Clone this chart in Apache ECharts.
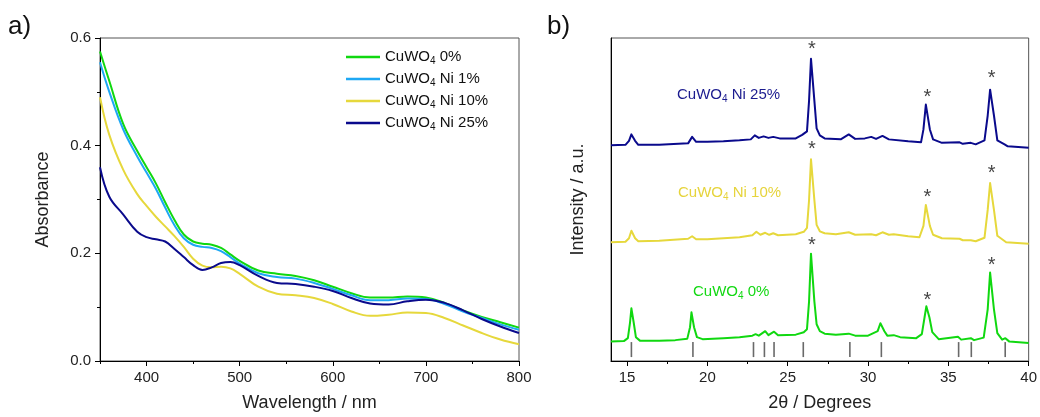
<!DOCTYPE html>
<html>
<head>
<meta charset="utf-8">
<script src="https://cdn.jsdelivr.net/npm/echarts@6/dist/echarts.min.js"></script>
<style>
  html, body { margin: 0; padding: 0; background: #fff; }
  #main { width: 1040px; height: 417px; }
</style>
</head>
<body>
<div id="main"></div>
<script>
// a) absorbance spectra
var wavelengths = [350, 360, 375, 390, 400, 410, 420, 430, 440, 450, 460, 470, 480, 490, 500,
  520, 540, 560, 580, 600, 620, 640, 660, 680, 700, 720, 740, 760, 780, 800]
var abs0 = [0.575, 0.52, 0.44, 0.39, 0.36, 0.33, 0.295, 0.262, 0.235, 0.222, 0.218, 0.216, 0.21, 0.198, 0.186,
  0.168, 0.162, 0.158, 0.15, 0.138, 0.126, 0.118, 0.118, 0.12, 0.118, 0.108, 0.094, 0.082, 0.072, 0.062]
var abs1 = [0.555, 0.5, 0.43, 0.38, 0.35, 0.32, 0.285, 0.252, 0.228, 0.216, 0.212, 0.21, 0.204, 0.193, 0.181,
  0.163, 0.156, 0.153, 0.145, 0.134, 0.122, 0.113, 0.113, 0.116, 0.115, 0.106, 0.092, 0.08, 0.068, 0.058]
var abs10 = [0.49, 0.42, 0.355, 0.31, 0.288, 0.268, 0.25, 0.232, 0.212, 0.19, 0.177, 0.174, 0.175, 0.172, 0.162,
  0.138, 0.125, 0.122, 0.117, 0.106, 0.092, 0.084, 0.086, 0.09, 0.089, 0.08, 0.066, 0.052, 0.04, 0.031]
var abs25 = [0.36, 0.305, 0.272, 0.24, 0.23, 0.226, 0.222, 0.208, 0.193, 0.178, 0.169, 0.174, 0.182, 0.184, 0.178,
  0.158, 0.145, 0.143, 0.138, 0.13, 0.117, 0.107, 0.105, 0.111, 0.114, 0.108, 0.094, 0.078, 0.064, 0.052]

var absTicks = [400, 500, 600, 700, 800]
var absMinorTicks = [350, 450, 550, 650, 750]

// b) XRD patterns (offset, arbitrary units)
var xrd0 = [[14, 19.5], [14.8, 20], [15.05, 23], [15.18, 38], [15.27, 53], [15.33, 53], [15.42, 38], [15.55, 24], [15.8, 20.5],
  [17, 20.5], [18, 21], [18.75, 22.5], [18.92, 34], [19.01, 49], [19.07, 49], [19.17, 34], [19.35, 24], [19.7, 22],
  [21, 23], [22, 24], [22.8, 25.5], [23, 27], [23.2, 25.5], [23.6, 30], [23.8, 26], [24.15, 29.5], [24.4, 26],
  [25.5, 26.5], [26, 29], [26.2, 32], [26.33, 60], [26.45, 108], [26.53, 108], [26.66, 60], [26.8, 37], [27, 30], [27.3, 27.5],
  [28, 26.5], [28.8, 27.5], [29.2, 25.5], [30, 25.5], [30.6, 30], [30.77, 38], [30.85, 38], [31.02, 30], [31.2, 25.5], [31.6, 26],
  [32, 24], [33, 23], [33.35, 27], [33.52, 44], [33.63, 55], [33.7, 55], [33.82, 44], [34, 29], [34.4, 22],
  [35.6, 24.5], [35.8, 21.5], [36.4, 23], [36.6, 21], [37.2, 23.5], [37.45, 52], [37.6, 89], [37.68, 89], [37.84, 52],
  [38.05, 28], [38.35, 21.5], [38.55, 23], [38.8, 19.5], [40, 18]]
var xrd10 = [[14, 119.5], [14.9, 120], [15.12, 123.5], [15.27, 131], [15.35, 131], [15.5, 123.5], [15.7, 120.5],
  [17, 121], [18.8, 123], [19.05, 125.5], [19.3, 122.5], [20, 122.5], [21, 123.5], [22, 124.5],
  [22.8, 126.5], [23.05, 130], [23.3, 127], [23.6, 129], [23.85, 127], [24.1, 128.5], [24.4, 126.5],
  [25.5, 127.5], [26, 130], [26.2, 134], [26.33, 162], [26.45, 203], [26.53, 203], [26.66, 162], [26.8, 137], [27, 130.5], [27.3, 128.5],
  [28, 127.5], [28.8, 129.5], [29.2, 127], [30.2, 127.5], [30.5, 126.5], [30.9, 129.5], [31.3, 127], [31.6, 127.5],
  [32.5, 125.5], [33.2, 124.5], [33.45, 136], [33.6, 157], [33.7, 157], [33.85, 136], [34.05, 127], [34.6, 123.5],
  [35.7, 123], [35.9, 121.5], [36.4, 121.5], [36.7, 120.5], [37.25, 124], [37.45, 152], [37.6, 179], [37.68, 179],
  [37.84, 152], [38.05, 126], [38.6, 119.5], [40, 118]]
var xrd25 = [[14, 217], [14.9, 217.5], [15.12, 221.5], [15.27, 228], [15.35, 228], [15.5, 221.5], [15.7, 217.5],
  [17, 217.5], [18.8, 219], [19.05, 225.5], [19.3, 220.5], [20, 220.5], [21, 221], [22, 222],
  [22.7, 223], [22.95, 227], [23.2, 224.5], [23.5, 226], [23.8, 224.5], [24.1, 225.5], [24.5, 224],
  [25.5, 224], [25.9, 227.5], [26.2, 231], [26.33, 262], [26.45, 304], [26.53, 304], [26.66, 262], [26.8, 234], [27, 227], [27.3, 224],
  [28.3, 223], [28.8, 228], [29.2, 223.5], [29.8, 224], [30.2, 225.5], [30.5, 223.5], [30.9, 226.5], [31.3, 223],
  [32.5, 221], [33.3, 220], [33.45, 233], [33.6, 258], [33.7, 258], [33.85, 233], [34.05, 223], [34.6, 219.5],
  [35.7, 220], [35.9, 218.5], [36.4, 219.5], [36.7, 218], [37.25, 222], [37.45, 247], [37.6, 273], [37.68, 273],
  [37.84, 247], [38.05, 222], [38.5, 218], [38.7, 216], [40, 214.5]]

// reference pattern positions and starred reflections
var refPeaks = [15.27, 19.1, 22.87, 23.55, 24.15, 25.97, 28.87, 30.83, 35.64, 36.43, 38.54]
var refLevel = 11.5
var stars = [[26.5, 121], [33.7, 66], [37.7, 101.5], [26.5, 217.5], [33.7, 170], [37.7, 193.5],
  [26.5, 318], [33.7, 270], [37.7, 289.5]]

var xrdTicks = [15, 20, 25, 30, 35, 40]
var xrdMinorTicks = [17.5, 22.5, 27.5, 32.5, 37.5]

var names = ['CuWO4 0%', 'CuWO4 Ni 1%', 'CuWO4 Ni 10%', 'CuWO4 Ni 25%']
var colors = ['#10d810', '#1ea8f4', '#e6d83c', '#0a0a8c']

var FONT = 'Arial, "Liberation Sans", sans-serif'
var sub = { fontSize: 10, fontFamily: FONT, verticalAlign: 'bottom', lineHeight: 11 }

function pairs(xs, ys) {
  return xs.map(function(x, i) { return [x, ys[i]] })
}

function absLine(i, values) {
  return {
    name: names[i], type: 'line', xAxisIndex: 0, yAxisIndex: 0,
    data: pairs(wavelengths, values), smooth: 0.4, symbol: 'none',
    lineStyle: { width: 2, color: colors[i] }, itemStyle: { color: colors[i] }
  }
}

function xrdLine(color, data) {
  return {
    type: 'line', xAxisIndex: 2, yAxisIndex: 1, data: data, symbol: 'none',
    lineStyle: { width: 2, color: color, join: 'round' }
  }
}

function subText(x, y, color, tail) {
  return {
    type: 'text', left: x, top: y,
    style: {
      text: 'CuWO{s|4}' + tail, fill: color, font: '15px ' + FONT,
      lineHeight: 18, rich: { s: Object.assign({ fill: color }, sub) }
    }
  }
}

var axisBlack = { lineStyle: { color: '#000', width: 1 } }
var tickLabel = { fontSize: 15, color: '#222', fontFamily: FONT }
var titleStyle = { fontSize: 18, color: '#222', fontFamily: FONT }

var chart = echarts.init(document.getElementById('main'))
chart.setOption({
  animation: false,
  grid: [
    { left: 100, right: 521, top: 38, bottom: 54, show: true, borderColor: '#555', borderWidth: 1 },
    { left: 611, right: 9, top: 38, bottom: 54, show: true, borderColor: '#555', borderWidth: 1 }
  ],
  legend: {
    data: names, orient: 'vertical', left: 341, top: 43, itemGap: 4,
    icon: 'rect', itemWidth: 34, itemHeight: 2.5,
    formatter: function(n) { return n.replace('CuWO4', 'CuWO{s|4}') },
    textStyle: { fontSize: 15, color: '#111', fontFamily: FONT, lineHeight: 18, rich: { s: sub } }
  },
  xAxis: [
    {
      gridIndex: 0, type: 'value', min: 350, max: 800,
      name: 'Wavelength / nm', nameLocation: 'middle', nameGap: 33, nameTextStyle: titleStyle,
      axisLine: axisBlack,
      axisTick: { customValues: absTicks, length: 5, lineStyle: { color: '#000' } },
      axisLabel: Object.assign({ customValues: absTicks, margin: 9 }, tickLabel),
      splitLine: { show: false }
    },
    {
      gridIndex: 0, type: 'value', min: 350, max: 800, position: 'bottom',
      axisLine: { show: false }, axisLabel: { show: false }, splitLine: { show: false },
      axisTick: { customValues: absMinorTicks, length: 3, lineStyle: { color: '#000' } }
    },
    {
      gridIndex: 1, type: 'value', min: 14, max: 40,
      name: '2θ / Degrees', nameLocation: 'middle', nameGap: 33, nameTextStyle: titleStyle,
      axisLine: axisBlack,
      axisTick: { customValues: xrdTicks, length: 5, lineStyle: { color: '#000' } },
      axisLabel: Object.assign({ customValues: xrdTicks, margin: 9 }, tickLabel),
      splitLine: { show: false }
    },
    {
      gridIndex: 1, type: 'value', min: 14, max: 40, position: 'bottom',
      axisLine: { show: false }, axisLabel: { show: false }, splitLine: { show: false },
      axisTick: { customValues: xrdMinorTicks, length: 3, lineStyle: { color: '#000' } }
    }
  ],
  yAxis: [
    {
      gridIndex: 0, type: 'value', min: 0, max: 0.6, interval: 0.2,
      name: 'Absorbance', nameLocation: 'middle', nameGap: 48, nameTextStyle: titleStyle,
      axisLine: Object.assign({ show: true }, axisBlack),
      axisTick: { show: true, length: 5, lineStyle: { color: '#000' } },
      minorTick: { show: true, splitNumber: 2, length: 3, lineStyle: { color: '#000' } },
      axisLabel: Object.assign({ margin: 9, formatter: function(v) { return v.toFixed(1) } }, tickLabel),
      splitLine: { show: false }
    },
    {
      gridIndex: 1, type: 'value', min: 0, max: 325,
      name: 'Intensity / a.u.', nameLocation: 'middle', nameGap: 24, nameTextStyle: titleStyle,
      axisLine: Object.assign({ show: true }, axisBlack),
      axisTick: { show: false }, axisLabel: { show: false }, splitLine: { show: false }
    }
  ],
  series: [
    absLine(0, abs0),
    absLine(1, abs1),
    absLine(2, abs10),
    absLine(3, abs25),
    xrdLine(colors[0], xrd0),
    xrdLine(colors[2], xrd10),
    xrdLine(colors[3], xrd25),
    {
      type: 'scatter', xAxisIndex: 2, yAxisIndex: 1,
      data: refPeaks.map(function(p) { return [p, refLevel] }),
      symbol: 'rect', symbolSize: [1.6, 15], itemStyle: { color: '#444' }
    },
    {
      type: 'scatter', xAxisIndex: 2, yAxisIndex: 1, data: stars, symbolSize: 0,
      label: {
        show: true, position: 'inside', formatter: '*', offset: [0, 5],
        fontSize: 20, color: '#111', fontFamily: FONT
      }
    }
  ],
  graphic: [
    { type: 'text', left: 8, top: 14, style: { text: 'a)', font: '26px ' + FONT, fill: '#111' } },
    { type: 'text', left: 547, top: 14, style: { text: 'b)', font: '26px ' + FONT, fill: '#111' } },
    subText(677, 86, '#1b1b8f', ' Ni 25%'),
    subText(678, 184, '#e6d43c', ' Ni 10%'),
    subText(693, 283, '#13d813', ' 0%')
  ]
})
</script>
</body>
</html>
